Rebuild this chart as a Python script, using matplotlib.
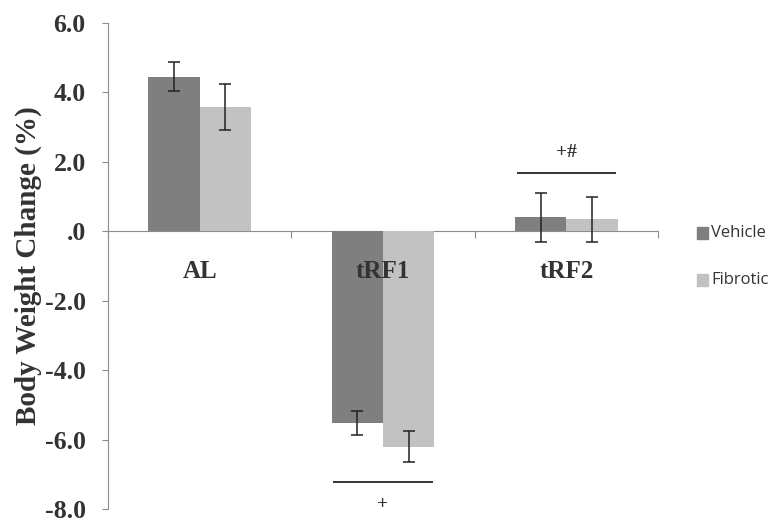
import numpy as np
import matplotlib.pyplot as plt

# Données
groupes = ["AL", "tRF1", "tRF2"]
vehicle = [4.45, -5.52, 0.40]
vehicle_err = [0.42, 0.34, 0.70]
fibrotic = [3.57, -6.20, 0.34]
fibrotic_err = [0.66, 0.44, 0.65]
yticks = [6, 4, 2, 0, -2, -4, -6, -8]
ytick_labels = ["6.0", "4.0", "2.0", ".0", "-2.0", "-4.0", "-6.0", "-8.0"]

# Annotations de significativité : (groupe, niveau, texte, au-dessus ?)
sig_groupes = [2, 1]
sig_niveaux = [1.67, -7.23]
sig_textes = ["+#", "+"]
sig_dessus = [True, False]

serif = ["Liberation Serif", "DejaVu Serif"]
col_vehicle = "#7f7f7f"
col_fibrotic = "#c2c2c2"
col_axe = "#8c8c8c"

fig = plt.figure(figsize=(7.79, 5.29), dpi=100)
ax = fig.add_axes([0.1386, 0.0378, 0.7061, 0.9187])

x = np.arange(len(groupes))
largeur = 0.28
err_kw = dict(ecolor="#222222", elinewidth=1.1, capsize=4.5, capthick=1.1)
ax.bar(x - largeur / 2, vehicle, largeur, yerr=vehicle_err, color=col_vehicle,
       error_kw=err_kw, zorder=2)
ax.bar(x + largeur / 2, fibrotic, largeur, yerr=fibrotic_err, color=col_fibrotic,
       error_kw=err_kw, zorder=2)

ax.set_xlim(-0.5, len(groupes) - 0.5)
ax.set_ylim(-8, 6)

# Axes
for cote in ["top", "right"]:
    ax.spines[cote].set_visible(False)
ax.spines["bottom"].set_position(("data", 0))
ax.spines["bottom"].set_color(col_axe)
ax.spines["left"].set_color(col_axe)
ax.spines["bottom"].set_zorder(1)

ax.set_xticks(np.arange(len(groupes) + 1) - 0.5)
ax.set_xticklabels([])
ax.tick_params(axis="x", direction="out", length=5, color=col_axe)
ax.set_yticks(yticks)
ax.set_yticklabels(ytick_labels, fontfamily=serif, fontweight="bold", fontsize=18.5)
ax.tick_params(axis="y", direction="out", length=4, color=col_axe, pad=12)

ax.set_ylabel("Body Weight Change (%)", fontfamily=serif, fontweight="bold",
              fontsize=21, color="#333333", labelpad=2)
for lab in ax.get_yticklabels():
    lab.set_color("#333333")

# Étiquettes des groupes sous la ligne zéro
for i, g in enumerate(groupes):
    ax.annotate(g, (x[i], 0), xytext=(0, -29), textcoords="offset points",
                ha="center", va="center", fontfamily=serif, fontweight="bold",
                fontsize=18, color="#333333", zorder=3)

# Barres de significativité
for g, niv, txt, dessus in zip(sig_groupes, sig_niveaux, sig_textes, sig_dessus):
    ax.plot([x[g] - 0.265, x[g] + 0.265], [niv, niv], color="#333333", lw=1.4)
    dy = 15 if dessus else -16
    ax.annotate(txt, (x[g], niv), xytext=(0, dy), textcoords="offset points",
                ha="center", va="center", fontfamily=serif, fontweight="bold",
                fontsize=14, color="#333333")

# Légende (coupée à droite comme l'original)
for j, (nom, col) in enumerate([("Vehicle", col_vehicle), ("Fibrotic", col_fibrotic)]):
    yf = 1 - (233 + j * 47) / 529
    fig.patches.append(plt.Rectangle((697 / 779, yf - 6 / 529), 11 / 779, 12 / 529,
                                     transform=fig.transFigure, color=col, figure=fig))
    fig.text(711 / 779, yf, nom, fontfamily=["Open Sans", "DejaVu Sans"], fontsize=12,
             color="#333333", va="center", ha="left")

fig.savefig("out.png", dpi=100)
